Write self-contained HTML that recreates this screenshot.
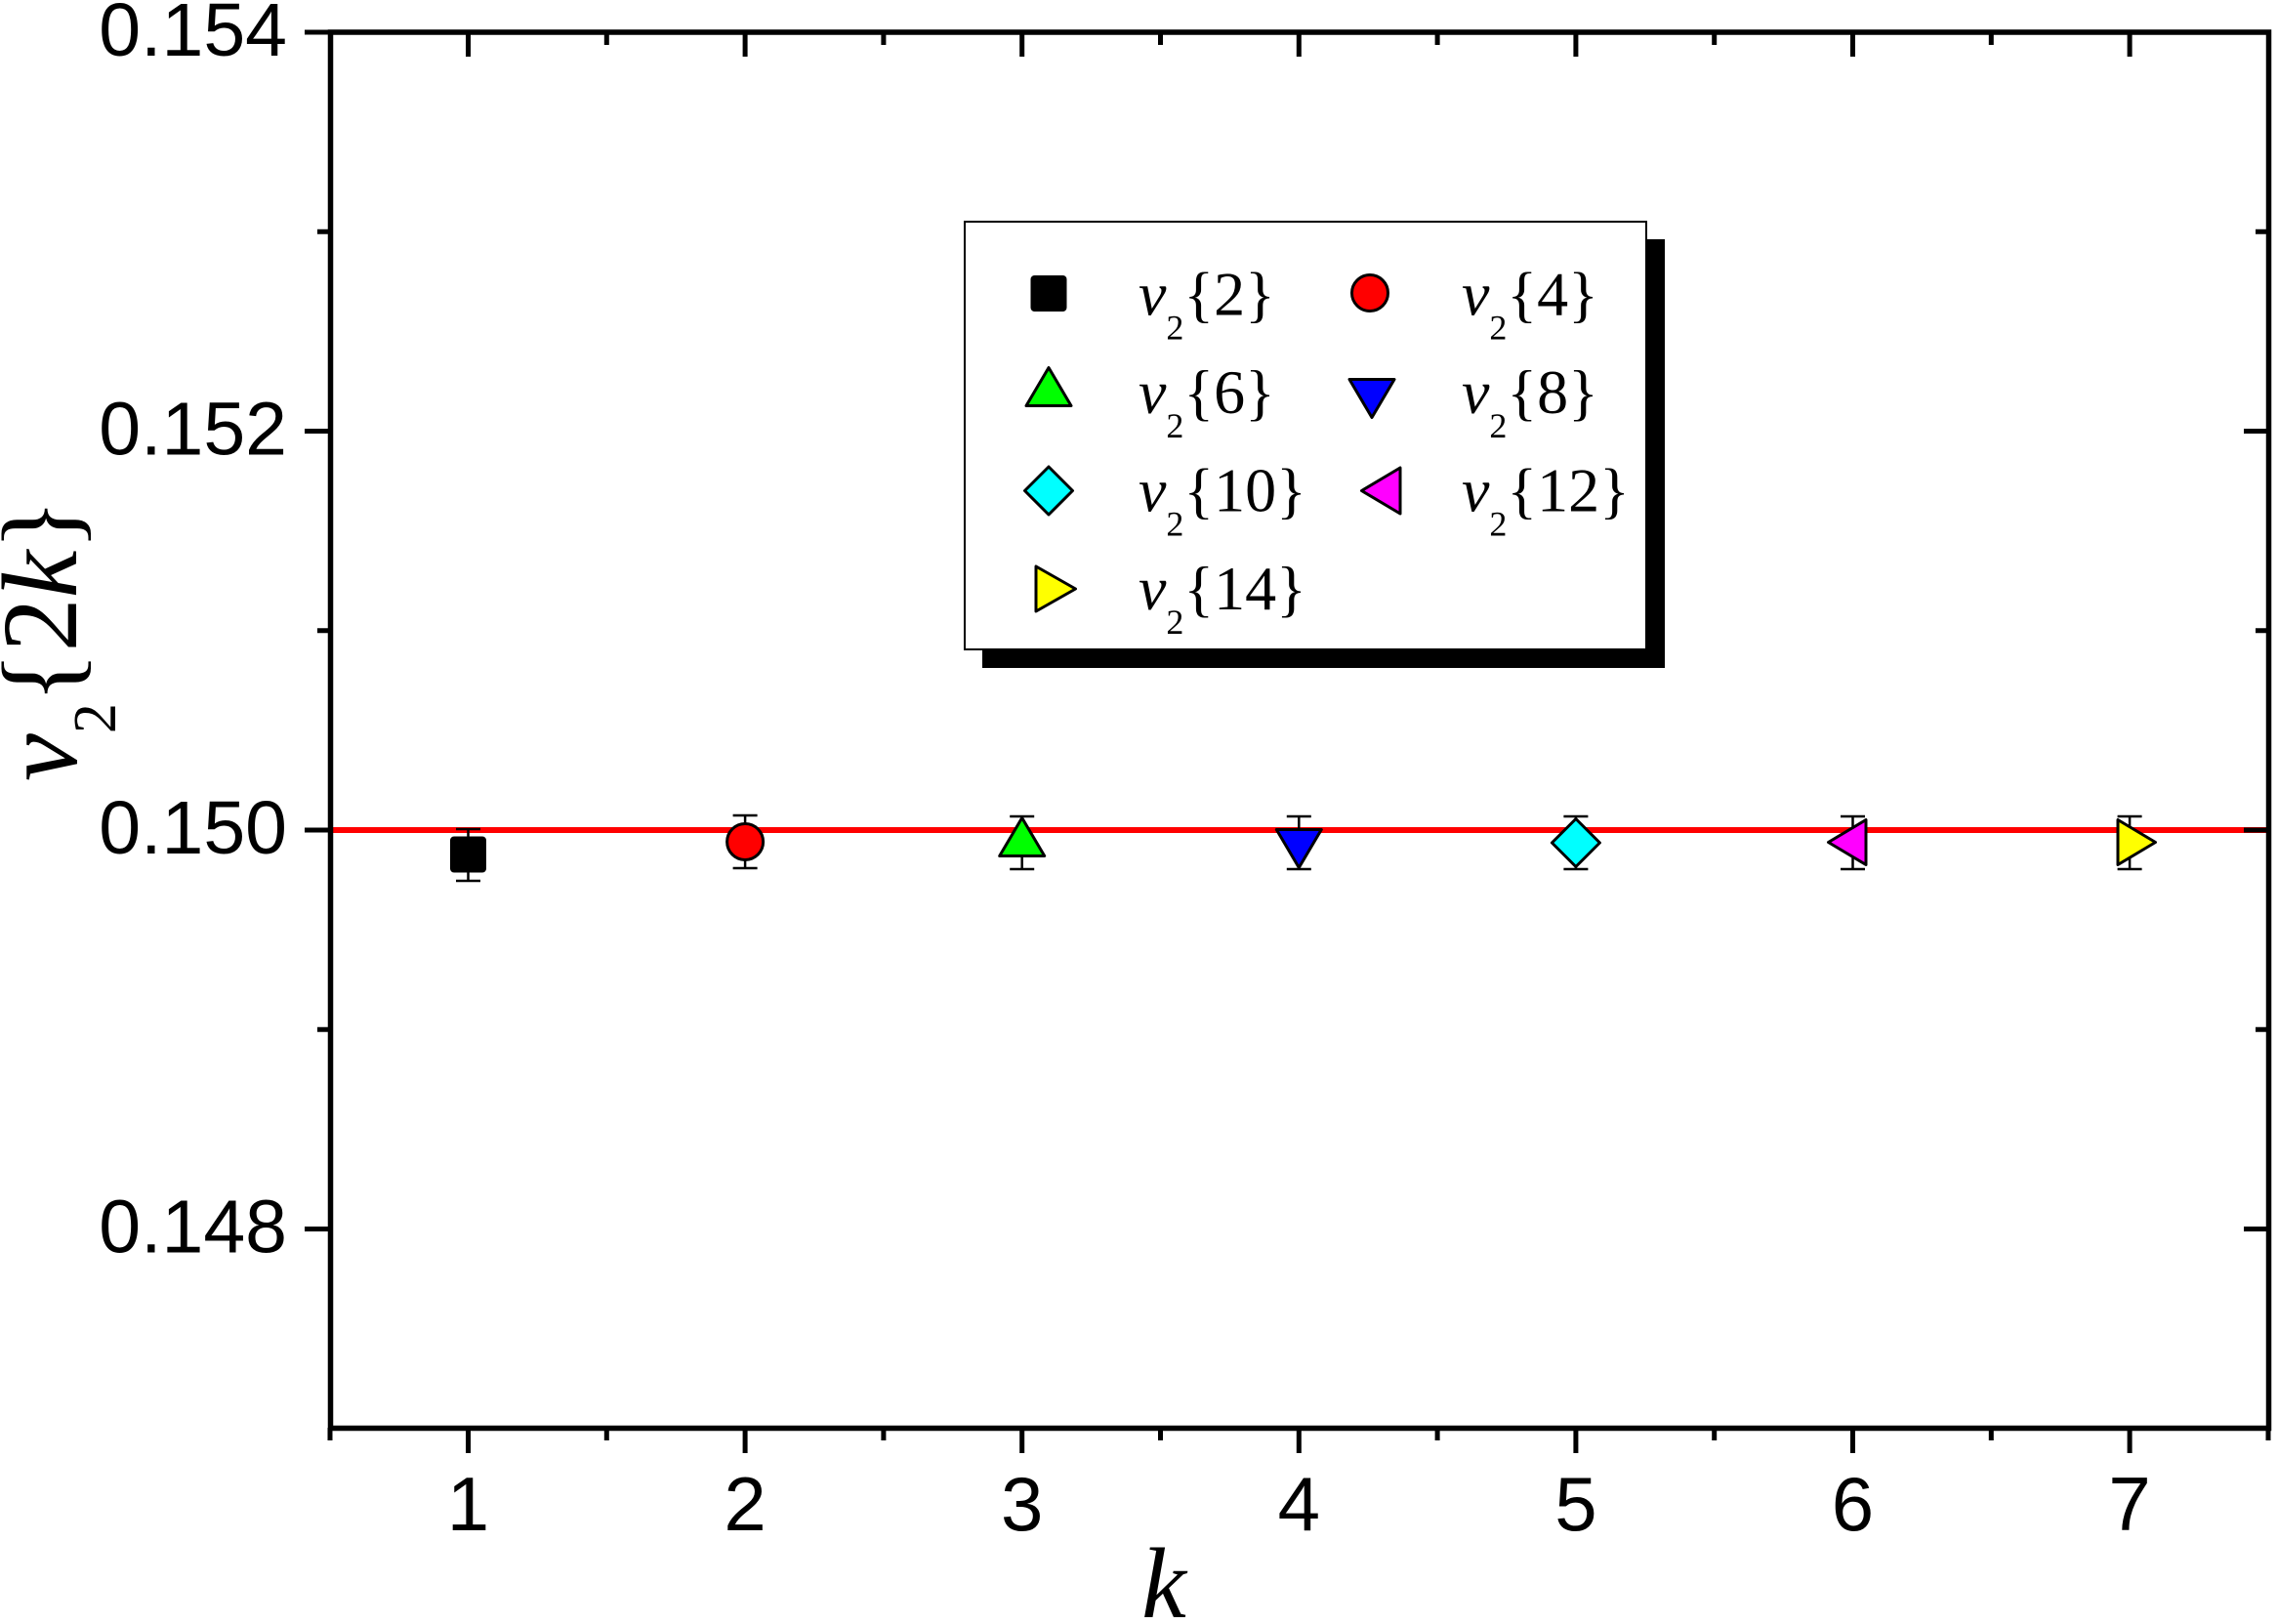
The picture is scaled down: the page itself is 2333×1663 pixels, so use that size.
<!DOCTYPE html>
<html>
<head>
<meta charset="utf-8">
<style>
  html, body { margin: 0; padding: 0; background: #ffffff; }
  svg { display: block; }
</style>
</head>
<body>
<svg xmlns="http://www.w3.org/2000/svg" width="2333" height="1663" viewBox="0 0 2333 1663">
  <rect x="0" y="0" width="2333" height="1663" fill="#ffffff"/>
  <line x1="338" y1="850" x2="2323" y2="850" stroke="#ff0000" stroke-width="6"/>
  <g stroke="#000" stroke-width="5">
    <line x1="312" y1="33" x2="338" y2="33"/>
    <line x1="312" y1="441.5" x2="338" y2="441.5"/>
    <line x1="312" y1="850" x2="338" y2="850"/>
    <line x1="312" y1="1258.5" x2="338" y2="1258.5"/>
    <line x1="325" y1="237.25" x2="338" y2="237.25"/>
    <line x1="325" y1="645.75" x2="338" y2="645.75"/>
    <line x1="325" y1="1054.25" x2="338" y2="1054.25"/>
    <line x1="2298" y1="441.5" x2="2323" y2="441.5"/>
    <line x1="2298" y1="850" x2="2323" y2="850"/>
    <line x1="2298" y1="1258.5" x2="2323" y2="1258.5"/>
    <line x1="2310" y1="237.25" x2="2323" y2="237.25"/>
    <line x1="2310" y1="645.75" x2="2323" y2="645.75"/>
    <line x1="2310" y1="1054.25" x2="2323" y2="1054.25"/>
    <line x1="479.5" y1="1462" x2="479.5" y2="1488"/>
    <line x1="763.1" y1="1462" x2="763.1" y2="1488"/>
    <line x1="1046.7" y1="1462" x2="1046.7" y2="1488"/>
    <line x1="1330.3" y1="1462" x2="1330.3" y2="1488"/>
    <line x1="1613.9" y1="1462" x2="1613.9" y2="1488"/>
    <line x1="1897.5" y1="1462" x2="1897.5" y2="1488"/>
    <line x1="2181.1" y1="1462" x2="2181.1" y2="1488"/>
    <line x1="338" y1="1462" x2="338" y2="1475"/>
    <line x1="621.3" y1="1462" x2="621.3" y2="1475"/>
    <line x1="904.9" y1="1462" x2="904.9" y2="1475"/>
    <line x1="1188.5" y1="1462" x2="1188.5" y2="1475"/>
    <line x1="1472.1" y1="1462" x2="1472.1" y2="1475"/>
    <line x1="1755.7" y1="1462" x2="1755.7" y2="1475"/>
    <line x1="2039.3" y1="1462" x2="2039.3" y2="1475"/>
    <line x1="2323" y1="1462" x2="2323" y2="1475"/>
    <line x1="479.5" y1="33" x2="479.5" y2="58"/>
    <line x1="763.1" y1="33" x2="763.1" y2="58"/>
    <line x1="1046.7" y1="33" x2="1046.7" y2="58"/>
    <line x1="1330.3" y1="33" x2="1330.3" y2="58"/>
    <line x1="1613.9" y1="33" x2="1613.9" y2="58"/>
    <line x1="1897.5" y1="33" x2="1897.5" y2="58"/>
    <line x1="2181.1" y1="33" x2="2181.1" y2="58"/>
    <line x1="621.3" y1="33" x2="621.3" y2="46"/>
    <line x1="904.9" y1="33" x2="904.9" y2="46"/>
    <line x1="1188.5" y1="33" x2="1188.5" y2="46"/>
    <line x1="1472.1" y1="33" x2="1472.1" y2="46"/>
    <line x1="1755.7" y1="33" x2="1755.7" y2="46"/>
    <line x1="2039.3" y1="33" x2="2039.3" y2="46"/>
  </g>
  <rect x="338.5" y="33" width="1985" height="1429.5" fill="none" stroke="#000" stroke-width="5.5"/>
  <g font-family="'Liberation Sans', Arial, sans-serif" font-size="77" fill="#000" text-anchor="end">
    <text x="294" y="57">0.154</text>
    <text x="294" y="465.5">0.152</text>
    <text x="294" y="874">0.150</text>
    <text x="294" y="1282.5">0.148</text>
  </g>
  <g font-family="'Liberation Sans', Arial, sans-serif" font-size="78" fill="#000" text-anchor="middle">
    <text x="479.5" y="1567">1</text>
    <text x="763.1" y="1567">2</text>
    <text x="1046.7" y="1567">3</text>
    <text x="1330.3" y="1567">4</text>
    <text x="1613.9" y="1567">5</text>
    <text x="1897.5" y="1567">6</text>
    <text x="2181.1" y="1567">7</text>
  </g>
  <text x="1192" y="1656" font-family="'Liberation Serif', 'Times New Roman', serif" font-size="103" font-style="italic" text-anchor="middle" fill="#000">k</text>
  <text transform="translate(78,800) rotate(-90)" font-family="'Liberation Serif', 'Times New Roman', serif" font-size="110" fill="#000"><tspan font-style="italic">v</tspan><tspan font-size="62" dy="40">2</tspan><tspan dy="-40">{2</tspan><tspan font-style="italic">k</tspan><tspan>}</tspan></text>
  <g stroke="#000" stroke-width="2.5">
    <line x1="479.5" y1="849" x2="479.5" y2="902"/>
    <line x1="467" y1="849" x2="492" y2="849"/>
    <line x1="467" y1="902" x2="492" y2="902"/>
    <line x1="763.1" y1="835" x2="763.1" y2="889"/>
    <line x1="750.6" y1="835" x2="775.6" y2="835"/>
    <line x1="750.6" y1="889" x2="775.6" y2="889"/>
    <line x1="1046.7" y1="836" x2="1046.7" y2="890"/>
    <line x1="1034.2" y1="836" x2="1059.2" y2="836"/>
    <line x1="1034.2" y1="890" x2="1059.2" y2="890"/>
    <line x1="1330.3" y1="836" x2="1330.3" y2="890"/>
    <line x1="1317.8" y1="836" x2="1342.8" y2="836"/>
    <line x1="1317.8" y1="890" x2="1342.8" y2="890"/>
    <line x1="1613.9" y1="836" x2="1613.9" y2="890"/>
    <line x1="1601.4" y1="836" x2="1626.4" y2="836"/>
    <line x1="1601.4" y1="890" x2="1626.4" y2="890"/>
    <line x1="1897.5" y1="836" x2="1897.5" y2="890"/>
    <line x1="1885" y1="836" x2="1910" y2="836"/>
    <line x1="1885" y1="890" x2="1910" y2="890"/>
    <line x1="2181.1" y1="836" x2="2181.1" y2="890"/>
    <line x1="2168.6" y1="836" x2="2193.6" y2="836"/>
    <line x1="2168.6" y1="890" x2="2193.6" y2="890"/>
  </g>
  <g stroke="#000" stroke-width="3" stroke-linejoin="round">
    <rect x="462" y="857.5" width="35" height="35" rx="3" fill="#000" stroke-width="2"/>
    <circle cx="763.1" cy="862" r="18.5" fill="#ff0000"/>
    <path d="M1046.7,837.5 L1069.7,876.5 L1023.7,876.5 Z" fill="#00ff00"/>
    <path d="M1330.3,888.5 L1353.3,849.5 L1307.3,849.5 Z" fill="#0000ff"/>
    <path d="M1613.9,838.5 L1638.4,863 L1613.9,887.5 L1589.4,863 Z" fill="#00ffff"/>
    <path d="M1872.5,862.5 L1911,839.5 L1911,885.5 Z" fill="#ff00ff"/>
    <path d="M2207.5,862.5 L2169,839.5 L2169,885.5 Z" fill="#ffff00"/>
  </g>
  <rect x="1006" y="245" width="699" height="439" fill="#000"/>
  <rect x="988" y="227" width="698" height="438" fill="#ffffff" stroke="#000" stroke-width="2"/>
  <g stroke="#000" stroke-width="3" stroke-linejoin="round">
    <rect x="1056.5" y="283" width="35" height="35" rx="3" fill="#000" stroke-width="2"/>
    <circle cx="1403" cy="300" r="18.5" fill="#ff0000"/>
    <path d="M1074,376.5 L1097,415.5 L1051,415.5 Z" fill="#00ff00"/>
    <path d="M1405,427.5 L1428,388.5 L1382,388.5 Z" fill="#0000ff"/>
    <path d="M1074,478 L1098.5,502.5 L1074,527 L1049.5,502.5 Z" fill="#00ffff"/>
    <path d="M1394.5,502.5 L1434,479 L1434,526 Z" fill="#ff00ff"/>
    <path d="M1101.5,603 L1061,580 L1061,626 Z" fill="#ffff00"/>
  </g>
  <g font-family="'Liberation Serif', 'Times New Roman', serif" font-size="64" fill="#000">
    <text x="1166" y="322.5"><tspan font-style="italic">v</tspan><tspan font-size="36" dy="25">2</tspan><tspan dy="-25">{2}</tspan></text>
    <text x="1497" y="322.5"><tspan font-style="italic">v</tspan><tspan font-size="36" dy="25">2</tspan><tspan dy="-25">{4}</tspan></text>
    <text x="1166" y="423"><tspan font-style="italic">v</tspan><tspan font-size="36" dy="25">2</tspan><tspan dy="-25">{6}</tspan></text>
    <text x="1497" y="423"><tspan font-style="italic">v</tspan><tspan font-size="36" dy="25">2</tspan><tspan dy="-25">{8}</tspan></text>
    <text x="1166" y="523.5"><tspan font-style="italic">v</tspan><tspan font-size="36" dy="25">2</tspan><tspan dy="-25">{10}</tspan></text>
    <text x="1497" y="523.5"><tspan font-style="italic">v</tspan><tspan font-size="36" dy="25">2</tspan><tspan dy="-25">{12}</tspan></text>
    <text x="1166" y="624"><tspan font-style="italic">v</tspan><tspan font-size="36" dy="25">2</tspan><tspan dy="-25">{14}</tspan></text>
  </g>
</svg>
</body>
</html>
